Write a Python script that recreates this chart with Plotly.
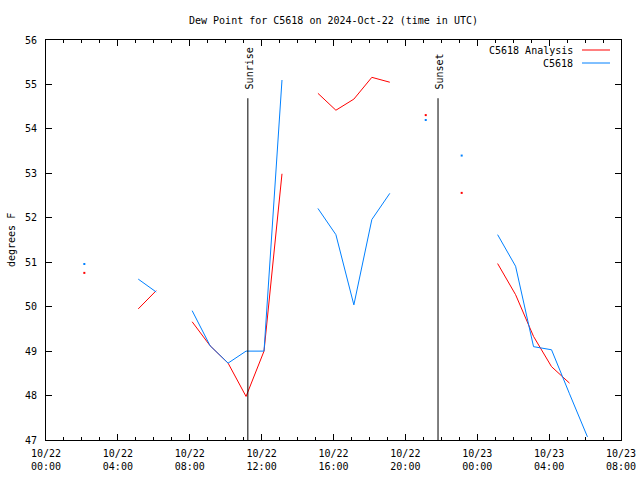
import plotly.graph_objects as go
from datetime import datetime, timedelta

# ---- data ----
start_time = "2024-10-22 00:08"
hour_offsets = list(range(0, 31))
analysis_vals = [None, None, 50.76, None, None, 49.95, 50.36, None, 49.66, 49.12,
                 48.73, 47.98, 49.00, 52.99, None, 54.80, 54.42, 54.67, 55.16, 55.05,
                 None, 54.31, None, 52.56, None, 50.97, 50.27, 49.33, 48.65, 48.28,
                 None]
obs_vals = [None, None, 50.96, None, None, 50.62, 50.33, None, 49.91, 49.12,
            48.73, 49.00, 49.00, 55.10, None, 52.21, 51.62, 50.04, 51.96, 52.55,
            None, 54.20, None, 53.40, None, 51.62, 50.91, 49.10, 49.03, 48.04,
            47.07]
sunrise_time = "2024-10-22 11:14"
sunset_time = "2024-10-22 21:49"
marker_top = 54.69
label_base = 54.84
x_range = ["2024-10-22 00:00", "2024-10-23 08:00"]
y_range = [47, 56]
series_names = ["C5618 Analysis", "C5618"]
series_colors = ["#ff0000", "#0080ff"]
title_text = "Dew Point for C5618 on 2024-Oct-22 (time in UTC)"

t0 = datetime.strptime(start_time, "%Y-%m-%d %H:%M")
times = [t0 + timedelta(hours=h) for h in hour_offsets]

FONT = "DejaVu Sans Mono"
W, H = 640, 480
L, R, T, B = 46, 19, 40, 40
PW, PH = W - L - R, H - T - B


def paper(px, py):
    return (px - L) / PW, 1 - (py - T) / PH


def isolated(vals):
    xs, ys = [], []
    for i, v in enumerate(vals):
        if v is None:
            continue
        prev_none = i == 0 or vals[i - 1] is None
        next_none = i == len(vals) - 1 or vals[i + 1] is None
        if prev_none and next_none:
            xs.append(times[i])
            ys.append(v)
    return xs, ys


fig = go.Figure()
for name, vals, col in zip(series_names, [analysis_vals, obs_vals], series_colors):
    fig.add_trace(go.Scatter(x=times, y=vals, mode="lines", name=name,
                             line=dict(color=col, width=1), connectgaps=False,
                             showlegend=False))
    ix, iy = isolated(vals)
    fig.add_trace(go.Scatter(x=ix, y=iy, mode="markers",
                             marker=dict(color=col, size=2, symbol="square", line=dict(width=0)),
                             showlegend=False))

# invisible trace to carry the minor-tick axis
fig.add_trace(go.Scatter(x=x_range, y=y_range, xaxis="x2", mode="markers",
                         marker=dict(opacity=0), hoverinfo="skip", showlegend=False))

# sunrise / sunset lines
for t, lab in [(sunrise_time, "Sunrise"), (sunset_time, "Sunset")]:
    fig.add_shape(type="line", xref="x", yref="y", x0=t, x1=t, y0=y_range[0], y1=marker_top,
                  line=dict(color="black", width=1))
    fig.add_annotation(x=t, y=label_base, xref="x", yref="y", text=lab, textangle=-90,
                       showarrow=False, xanchor="center", yanchor="bottom", xshift=2,
                       font=dict(family=FONT, size=10, color="black"))

# manual legend
for i, (name, col) in enumerate(zip(series_names, series_colors)):
    py = 50 + i * 13
    ax, ay = paper(575, py)
    fig.add_annotation(x=ax, y=ay, xref="paper", yref="paper", text=name, showarrow=False,
                       xanchor="right", yanchor="middle",
                       font=dict(family=FONT, size=10, color="black"))
    lx0, ly = paper(582, py)
    lx1, _ = paper(610, py)
    fig.add_shape(type="line", xref="paper", yref="paper", x0=lx0, x1=lx1, y0=ly, y1=ly,
                  line=dict(color=col, width=1))

# y-axis title
yx, yy = paper(11, 240)
fig.add_annotation(x=yx, y=yy, xref="paper", yref="paper", text="degrees F", textangle=-90,
                   showarrow=False, xanchor="center", yanchor="middle",
                   font=dict(family=FONT, size=10, color="black"))

fig.update_layout(
    width=W, height=H,
    margin=dict(l=L, r=R, t=T, b=B, autoexpand=False),
    paper_bgcolor="white", plot_bgcolor="white",
    title=dict(text=title_text, x=0.5, xref="paper", y=1 - 20 / H, yref="container",
               xanchor="center", yanchor="middle", automargin=False,
               font=dict(family=FONT, size=10, color="black")),
    font=dict(family=FONT, size=10, color="black"),
    showlegend=False,
    xaxis=dict(
        range=x_range, type="date", tick0="2024-10-22 00:00", dtick=4 * 3600000,
        tickformat="%m/%d<br>%H:%M", ticks="inside", ticklen=6, tickcolor="black",
        showline=True, linecolor="black", linewidth=1, mirror="ticks", showgrid=False,
        zeroline=False, ticklabelstandoff=4, automargin=False,
    ),
    xaxis2=dict(
        range=x_range, type="date", tick0="2024-10-22 00:00", dtick=3600000,
        overlaying="x", side="bottom", ticks="inside", ticklen=3, tickcolor="black",
        showticklabels=False, showline=False, mirror="ticks", showgrid=False,
        zeroline=False, automargin=False, matches="x",
    ),
    yaxis=dict(
        range=y_range, dtick=1, tick0=47, ticks="inside", ticklen=6, tickcolor="black",
        showline=True, linecolor="black", linewidth=1, mirror="ticks", showgrid=False,
        zeroline=False, ticklabelstandoff=6, automargin=False,
    ),
)

fig.write_html("out.html",
               config={"displayModeBar": False},
               post_script="document.body.style.margin='0';document.body.style.overflow='hidden';")
